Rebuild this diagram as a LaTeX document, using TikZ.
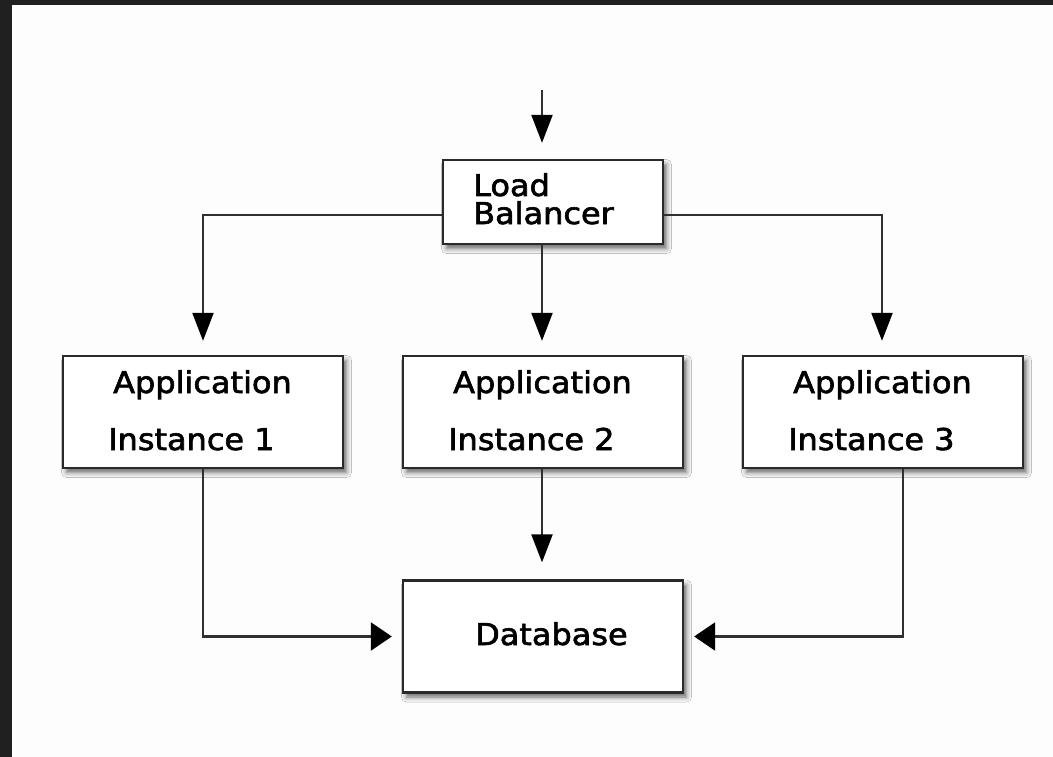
\documentclass[tikz,border=0pt]{standalone}
\usepackage{graphicx}
\usepackage{fontspec}
\setmainfont[FakeBold=2]{DejaVu Sans}
\usetikzlibrary{arrows.meta,shadows.blur,calc}
\definecolor{framedark}{HTML}{202020}
\definecolor{paper}{HTML}{FDFDFD}
\definecolor{edgegray}{HTML}{2A2A2A}
\definecolor{wiregray}{HTML}{303030}
% slightly widened lettering
\newcommand\widetext[1]{\scalebox{1.065}[1]{#1}}
\tikzset{
  box/.style={draw=edgegray, line width=2.3pt, fill=white, inner sep=0pt,
    blur shadow={shadow xshift=3.5pt, shadow yshift=-4.5pt, shadow blur radius=5pt, shadow opacity=60}},
  wide/.style={box, minimum width=280pt, minimum height=112pt},
  txt/.style={anchor=base west, inner sep=0pt, font=\fontsize{30}{30}\selectfont},
  wire/.style={draw=wiregray, line width=2.2pt},
  vtip/.style={-{Triangle[length=28pt,width=21pt,color=black]}},
  htip/.style={-{Triangle[length=21pt,width=28pt,color=black]}},
}
\begin{document}
\begin{tikzpicture}[x=1pt,y=-1pt]
  \useasboundingbox (0,0) rectangle (1053,757);
  % canvas and dark window edge
  \fill[paper] (0,0) rectangle (1053,757);
  \fill[framedark] (0,0) rectangle (1053,5);
  \fill[framedark] (0,0) rectangle (12,757);

  % boxes
  \node[box, minimum width=220pt, minimum height=84pt] (lb) at (553,202) {};
  \node[wide] (app1) at (203,412) {};
  \node[wide] (app2) at (543,412) {};
  \node[wide] (app3) at (883,412) {};
  \node[wide] (db) at (543,636.5) {};

  % box texts
  \node[txt] (lbA) at (473,196) {\widetext{Load}};
  \node[txt] (lbB) at (473,224) {\widetext{Balancer}};
  \node[txt] (a1A) at (113,393) {\widetext{Application}};
  \node[txt] (a1B) at (108,450) {\widetext{Instance 1}};
  \node[txt] (a2A) at (453,393) {\widetext{Application}};
  \node[txt] (a2B) at (448,450) {\widetext{Instance 2}};
  \node[txt] (a3A) at (793,393) {\widetext{Application}};
  \node[txt] (a3B) at (788,450) {\widetext{Instance 3}};
  \node[txt] (dbA) at (475,645) {\widetext{Database}};

  % incoming traffic
  \coordinate (in) at (542,90);
  \draw[wire,vtip,shorten >=16pt] (in) -- (in |- lb.north);

  % load balancer to instances
  \draw[wire,vtip,shorten >=14pt] ([yshift=-13pt]lb.west) -| (app1.north);
  \draw[wire,vtip,shorten >=14pt] (in |- lb.south) -- (in |- app2.north);
  \draw[wire,vtip,shorten >=14pt] ([yshift=-13pt]lb.east) -| ([xshift=-1pt]app3.north);

  % instances to database
  \draw[wire,htip,shorten >=10pt] (app1.south) |- (db.west);
  \draw[wire,vtip,shorten >=17pt] (in |- app2.south) -- (in |- db.north);
  \draw[wire,htip,shorten >=10pt] ([xshift=20pt]app3.south) |- (db.east);
\end{tikzpicture}
\end{document}
